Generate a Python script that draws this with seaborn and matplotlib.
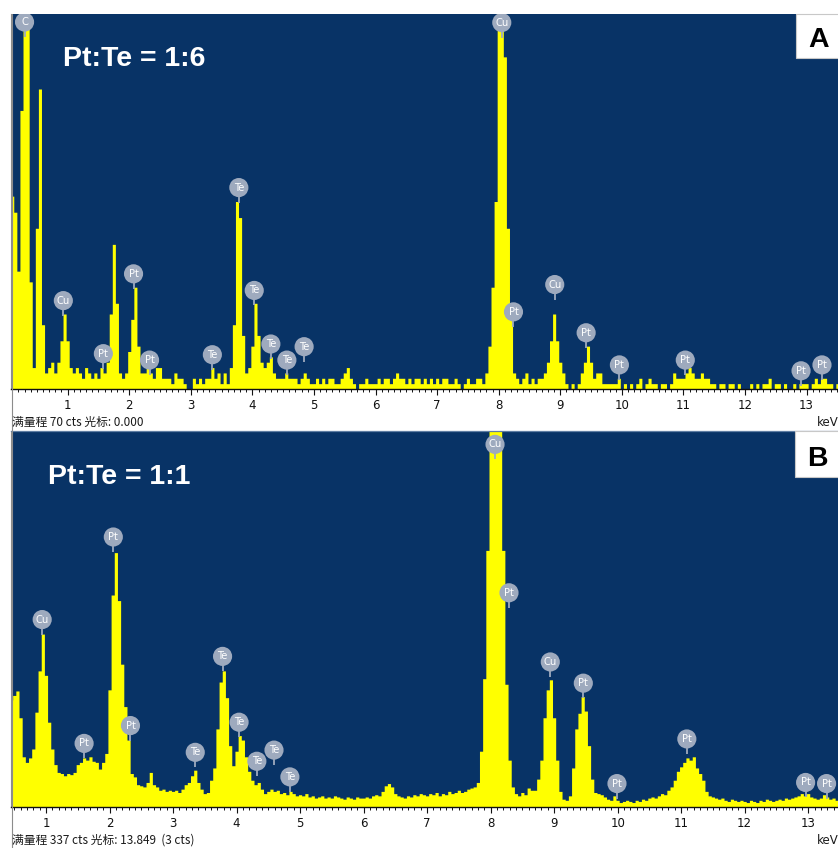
import numpy as np
import pandas as pd
import matplotlib
matplotlib.use("Agg")
import matplotlib.pyplot as plt
import matplotlib.transforms as mtransforms
from matplotlib.patches import Rectangle
from matplotlib.lines import Line2D
from matplotlib.ticker import MultipleLocator
import seaborn as sns

# EDS spectrum A (Pt:Te = 1:6): counts per 0.05 keV channel, first channel 0.10 keV
counts_a = [
    36, 33, 22, 52, 78, 72, 20, 4, 30, 56, 12, 3, 4, 5, 3, 5, 9, 14,          # 0.10-0.95
    9, 4, 3, 4, 3, 2, 4, 3, 2, 3, 2, 4, 3, 5, 14, 27, 16, 3, 2, 3,            # 1
    7, 13, 19, 8, 3, 3, 4, 3, 2, 4, 4, 2, 2, 2, 1, 3, 2, 2, 1, 0,             # 2
    0, 2, 1, 2, 1, 2, 2, 4, 2, 3, 1, 3, 1, 4, 12, 35, 32, 10, 3, 4,           # 3
    8, 16, 10, 5, 4, 5, 6, 3, 2, 2, 2, 3, 2, 2, 2, 1, 2, 3, 2, 1,             # 4
    1, 2, 1, 2, 1, 2, 2, 1, 1, 2, 3, 4, 2, 1, 0, 1, 1, 2, 1, 1,               # 5
    1, 2, 1, 2, 2, 1, 2, 3, 2, 2, 1, 2, 1, 2, 2, 1, 2, 1, 2, 1,               # 6
    2, 1, 2, 2, 1, 1, 2, 1, 0, 1, 2, 1, 1, 2, 2, 1, 3, 8, 19, 35,             # 7
    80, 95, 62, 30, 14, 3, 2, 1, 2, 3, 1, 2, 1, 2, 2, 3, 5, 9, 14, 9,         # 8
    5, 3, 1, 0, 1, 0, 1, 3, 5, 8, 5, 2, 3, 3, 1, 1, 1, 1, 1, 2,               # 9
    0, 1, 0, 1, 0, 1, 2, 0, 1, 2, 1, 1, 0, 1, 1, 0, 1, 3, 2, 2,               # 10
    2, 3, 4, 3, 2, 2, 3, 2, 2, 1, 1, 0, 1, 1, 0, 1, 1, 0, 1, 0,               # 11
    0, 0, 1, 0, 1, 0, 1, 1, 2, 0, 1, 1, 0, 1, 0, 0, 1, 0, 1, 1,               # 12
    1, 0, 1, 2, 1, 2, 2, 1, 1, 0, 1,                                          # 13-13.50
]
start_a = 0.10
full_scale_a = 70
cursor_a = "0.000"

# EDS spectrum B (Pt:Te = 1:1): counts per 0.05 keV channel, first channel 0.45 keV
counts_b = [
    96, 100, 104, 80, 45, 40, 44, 52, 85, 122, 155,                           # 0.45-0.95
    118, 76, 52, 38, 31, 30, 28, 30, 29, 31, 38, 40, 44, 42, 45, 41, 40, 34, 40, 48,
    105, 190, 228, 185, 128, 90, 60, 30, 27, 20, 19, 18, 22, 31, 20, 18, 15, 16, 14, 15,
    14, 15, 13, 16, 20, 22, 28, 33, 22, 16, 12, 13, 24, 35, 70, 112, 122, 98, 55, 37,
    50, 64, 60, 45, 32, 24, 20, 22, 16, 12, 14, 16, 14, 15, 12, 13, 11, 14, 12, 10,
    11, 10, 12, 9, 10, 8, 9, 10, 8, 9, 8, 10, 9, 8, 7, 9, 8, 7, 9, 8,
    8, 9, 8, 10, 11, 10, 14, 19, 21, 18, 12, 10, 9, 8, 10, 9, 11, 10, 12, 11,
    10, 12, 11, 13, 10, 12, 11, 14, 12, 13, 15, 13, 14, 16, 17, 18, 22, 50, 115, 230,
    360, 370, 365, 345, 230, 110, 42, 18, 12, 10, 13, 11, 17, 15, 15, 25, 42, 80, 105, 114,
    80, 42, 14, 7, 6, 10, 35, 70, 84, 99, 86, 55, 25, 13, 12, 11, 9, 7, 6, 10,
    6, 4, 5, 6, 5, 4, 6, 5, 7, 6, 8, 9, 8, 10, 12, 11, 15, 18, 24, 32,
    36, 40, 44, 42, 45, 35, 30, 24, 14, 10, 9, 8, 7, 8, 6, 5, 7, 6, 5, 6,
    5, 4, 6, 5, 4, 6, 5, 7, 6, 5, 6, 7, 6, 8, 7, 8, 9, 10, 12, 10,
    12, 9, 8, 7, 8, 11, 9, 7, 8, 6, 7,
]
start_b = 0.45
full_scale_b = 337
cursor_b = "13.849  (3 cts)"

# element tags: name, line energy (keV), tag height (cts)
tags_a = ["C", "Cu", "Pt", "Pt", "Pt", "Te", "Te", "Te", "Te", "Te", "Te",
          "Cu", "Pt", "Cu", "Pt", "Pt", "Pt", "Pt", "Pt"]
tag_kev_a = [0.30, 0.93, 1.58, 2.07, 2.33, 3.35, 3.78, 4.03, 4.30, 4.56, 4.84,
             8.05, 8.24, 8.91, 9.42, 9.96, 11.03, 12.91, 13.25]
tag_cts_a = [68.5, 16.5, 6.6, 21.5, 5.4, 6.4, 37.6, 18.4, 8.4, 5.4, 7.9,
             68.4, 14.4, 19.5, 10.5, 4.5, 5.4, 3.4, 4.5]

tags_b = ["Cu", "Pt", "Pt", "Pt", "Te", "Te", "Te", "Te", "Te", "Te",
          "Cu", "Pt", "Cu", "Pt", "Pt", "Pt", "Pt", "Pt"]
tag_kev_b = [0.94, 1.60, 2.06, 2.33, 3.35, 3.78, 4.04, 4.32, 4.59, 4.84,
             8.07, 8.29, 8.94, 9.46, 9.99, 11.09, 12.96, 13.29]
tag_cts_b = [168, 57, 242, 73, 49, 135, 76, 41, 51, 27,
             325, 192, 130, 111, 21, 61, 22, 21]

xticks = list(range(1, 14))

BG = "#083366"
YELLOW = "#ffff00"
TAG = "#9eaabe"
W, H = 838, 848

sns.set_style("ticks")
plt.rcParams["font.family"] = ["DejaVu Sans"]

fig = plt.figure(figsize=(W / 100, H / 100), dpi=100)


def px_rect(x0, y0, x1, y1):
    # pixel box (top-left origin) -> figure fraction [left, bottom, width, height]
    return [x0 / W, 1 - y1 / H, (x1 - x0) / W, (y1 - y0) / H]


def draw_panel(box, counts, start, full_scale, xlim, names, kev, cts,
               ratio, ratio_xy, letter, letter_box, letter_xy, cursor, top_line):
    ax = fig.add_axes(px_rect(*box))
    spec = pd.DataFrame({"counts": np.asarray(counts, dtype=float)})
    spec["energy"] = np.round(start + 0.05 * np.arange(len(spec)), 3)
    edges = [round(e - 0.025, 3) for e in spec["energy"]] + [round(spec["energy"].iloc[-1] + 0.025, 3)]

    sns.histplot(data=spec, x="energy", weights="counts", bins=edges, element="step",
                 fill=True, color=YELLOW, alpha=1.0, linewidth=0, ax=ax)

    ax.set_facecolor(BG)
    ax.set_xlim(*xlim)
    ax.set_ylim(0, full_scale)
    ax.set_xlabel("")
    ax.set_ylabel("")
    ax.set_yticks([])
    ax.set_xticks(xticks)
    ax.set_xticklabels([str(t) for t in xticks])
    ax.xaxis.set_minor_locator(MultipleLocator(0.1))
    ax.tick_params(axis="x", which="major", length=4.5, width=0.8, direction="out",
                   pad=2.5, labelsize=8.5, colors="#111111")
    ax.tick_params(axis="x", which="minor", length=2.2, width=0.7, direction="out",
                   colors="#111111")
    ax.spines["bottom"].set_color("#111111")
    ax.spines["bottom"].set_linewidth(1.0)
    ax.spines["left"].set_color("#8c8c8c")
    ax.spines["left"].set_linewidth(0.8)
    ax.spines["right"].set_visible(False)
    if top_line:
        ax.spines["top"].set_color("#5f7ea3")
        ax.spines["top"].set_linewidth(0.9)
    else:
        ax.spines["top"].set_visible(False)

    # element tags: grey disc with short stem
    stem = mtransforms.offset_copy(ax.transData, fig=fig, x=0, y=-12, units="dots")
    ax.plot(kev, cts, linestyle="none", marker="|", markersize=4.5,
            markeredgewidth=1.3, color=TAG, transform=stem, zorder=4)
    ax.scatter(kev, cts, s=190, color=TAG, edgecolors="none", zorder=5)
    for name, e, c in zip(names, kev, cts):
        ax.text(e, c, name, ha="center", va="center", fontsize=7.2,
                color="white", zorder=6)

    fig.text(ratio_xy[0] / W, 1 - ratio_xy[1] / H, ratio, color="white",
             fontsize=20.5, fontweight="bold", family="Liberation Sans",
             va="baseline", ha="left")

    fig.add_artist(Rectangle((letter_box[0] / W, 1 - letter_box[3] / H),
                             (letter_box[2] - letter_box[0]) / W,
                             (letter_box[3] - letter_box[1]) / H,
                             transform=fig.transFigure, facecolor="white",
                             edgecolor="#c8c8c8", linewidth=0.8, zorder=5))
    fig.text(letter_xy[0] / W, 1 - letter_xy[1] / H, letter, color="black",
             fontsize=20.5, fontweight="bold", family="Liberation Sans",
             ha="center", va="baseline", zorder=6)

    text_y = box[3] + 33
    fig.text(12 / W, 1 - text_y / H, f"满量程 {full_scale} cts 光标: {cursor}",
             fontsize=8.5, color="#1a1a1a", va="center", ha="left",
             family=["Noto Sans CJK SC", "DejaVu Sans"])
    fig.text(817 / W, 1 - text_y / H, "keV", fontsize=8.5, color="#1a1a1a",
             va="center", ha="left")
    return ax


draw_panel((11, 14, 838, 389), counts_a, start_a, full_scale_a, (0.08, 13.51),
           tags_a, tag_kev_a, tag_cts_a, "Pt:Te = 1:6", (63, 66),
           "A", (796, 14, 839, 58), (819, 47), cursor_a, False)
draw_panel((11, 431, 838, 807), counts_b, start_b, full_scale_b, (0.449, 13.47),
           tags_b, tag_kev_b, tag_cts_b, "Pt:Te = 1:1", (48, 484),
           "B", (795, 431, 839, 477), (817.5, 466), cursor_b, True)

# grey frame line down the left edge
fig.add_artist(Line2D([11.5 / W, 11.5 / W], [0, 1 - 14 / H], transform=fig.transFigure,
                      color="#8c8c8c", linewidth=0.8))

fig.savefig("out.png", dpi=100, facecolor="white")
